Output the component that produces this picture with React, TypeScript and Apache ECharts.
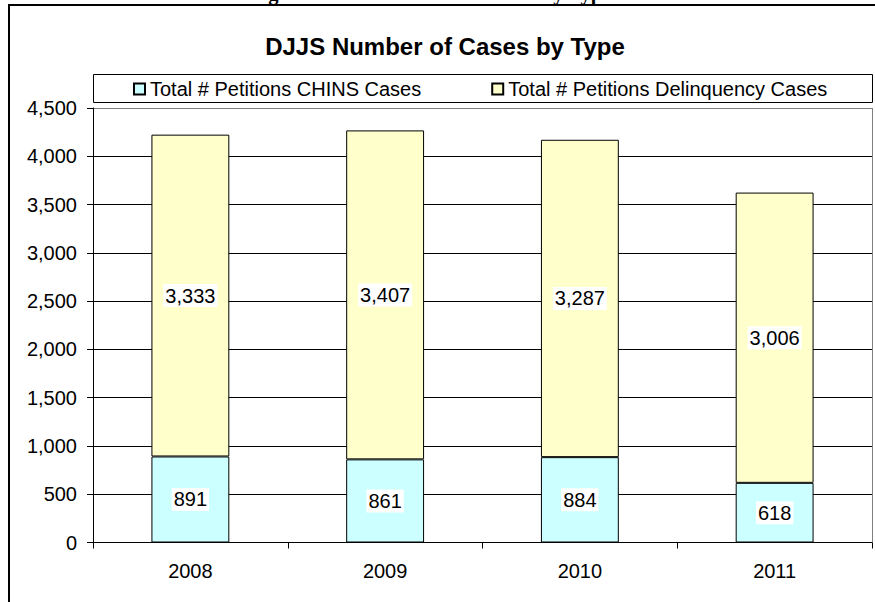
import React, { useEffect, useRef } from "react";
import * as echarts from "echarts";

// Case counts per year
const years = ["2008", "2009", "2010", "2011"];
const chinsCases = [891, 861, 884, 618];
const delinquencyCases = [3333, 3407, 3287, 3006];
const seriesNames = [
  "Total # Petitions CHINS Cases",
  "Total # Petitions Delinquency Cases",
];
const chartTitle = "DJJS Number of Cases by Type";
const figureCaption = "Figure 7: DJJS Number of Cases by Type";

const FONT = '"Liberation Sans", Arial, sans-serif';
const fmt = (v: number) => v.toLocaleString("en-US");

export default function App() {
  const ref = useRef<HTMLDivElement>(null);

  useEffect(() => {
    document.body.style.margin = "0";
    document.body.style.overflow = "hidden";
    document.documentElement.style.overflow = "hidden";
    if (!ref.current) return;
    const chart = echarts.init(ref.current, undefined, { renderer: "svg" });

    const labelStyle = {
      show: true,
      position: "inside" as const,
      color: "#000",
      fontFamily: FONT,
      fontSize: 20,
      backgroundColor: "#fff",
      padding: [2, 2, 1, 2],
      formatter: (p: any) => fmt(p.value),
    };

    chart.setOption({
      animation: false,
      backgroundColor: "#fff",
      textStyle: { fontFamily: FONT },
      title: {
        text: chartTitle,
        left: 440,
        textAlign: "center",
        top: 29,
        textStyle: { fontFamily: FONT, fontSize: 24, fontWeight: "bold", color: "#000" },
      },
      legend: {
        left: 128,
        top: 74,
        itemGap: 70,
        itemWidth: 11,
        itemHeight: 11,
        icon: "rect",
        textStyle: { fontFamily: FONT, fontSize: 20, color: "#000" },
        data: seriesNames,
      },
      grid: { left: 93, right: 3, top: 108, bottom: 59.5, show: false },
      xAxis: {
        type: "category",
        data: years,
        axisLine: { lineStyle: { color: "#000", width: 1 } },
        axisTick: { show: true, length: 6, lineStyle: { color: "#000" } },
        axisLabel: { color: "#000", fontSize: 20, fontFamily: FONT, margin: 18 },
      },
      yAxis: {
        type: "value",
        min: 0,
        max: 4500,
        interval: 500,
        axisLine: { show: true, lineStyle: { color: "#000", width: 1 } },
        axisTick: { show: true, length: 6, lineStyle: { color: "#000" } },
        axisLabel: {
          color: "#000",
          fontSize: 20,
          fontFamily: FONT,
          margin: 16,
          formatter: (v: number) => fmt(v),
        },
        splitLine: {
          show: true,
          lineStyle: {
            color: ["#000", "#000", "#000", "#000", "#000", "#000", "#000", "#000", "#000", "#808080"],
            width: 1,
          },
        },
      },
      series: [
        {
          name: seriesNames[0],
          type: "bar",
          stack: "cases",
          barWidth: "40%",
          data: chinsCases,
          itemStyle: { color: "#CCFFFF", borderColor: "#000", borderWidth: 1 },
          label: labelStyle,
        },
        {
          name: seriesNames[1],
          type: "bar",
          stack: "cases",
          barWidth: "40%",
          data: delinquencyCases,
          itemStyle: { color: "#FFFFCC", borderColor: "#000", borderWidth: 1 },
          label: labelStyle,
        },
      ],
      graphic: [
        // legend frame
        {
          type: "rect",
          shape: { x: 93.5, y: 74.5, width: 779, height: 28 },
          style: { fill: "none", stroke: "#000", lineWidth: 1 },
          z: 1,
        },
        // right edge of plot area
        {
          type: "line",
          shape: { x1: 872.5, y1: 108, x2: 872.5, y2: 542 },
          style: { stroke: "#808080", lineWidth: 1 },
        },
        // caption above the chart frame (only its lowest strokes fall on the page)
        {
          type: "text",
          x: 250,
          y: 3,
          style: {
            text: figureCaption,
            font: 'bold 20.5px "Liberation Serif", "Times New Roman", serif',
            fill: "#000",
            textAlign: "left",
            textVerticalAlign: "bottom",
          },
          z: 0,
        },
        // outer frame: top and left edges
        {
          type: "line",
          shape: { x1: 8, y1: 5, x2: 875, y2: 5 },
          style: { stroke: "#000", lineWidth: 2 },
          z: 5,
        },
        {
          type: "line",
          shape: { x1: 9, y1: 4, x2: 9, y2: 602 },
          style: { stroke: "#000", lineWidth: 2 },
          z: 5,
        },
      ],
    });

    return () => chart.dispose();
  }, []);

  return (
    <div
      ref={ref}
      style={{ position: "fixed", left: 0, top: 0, width: 875, height: 602 }}
    />
  );
}
